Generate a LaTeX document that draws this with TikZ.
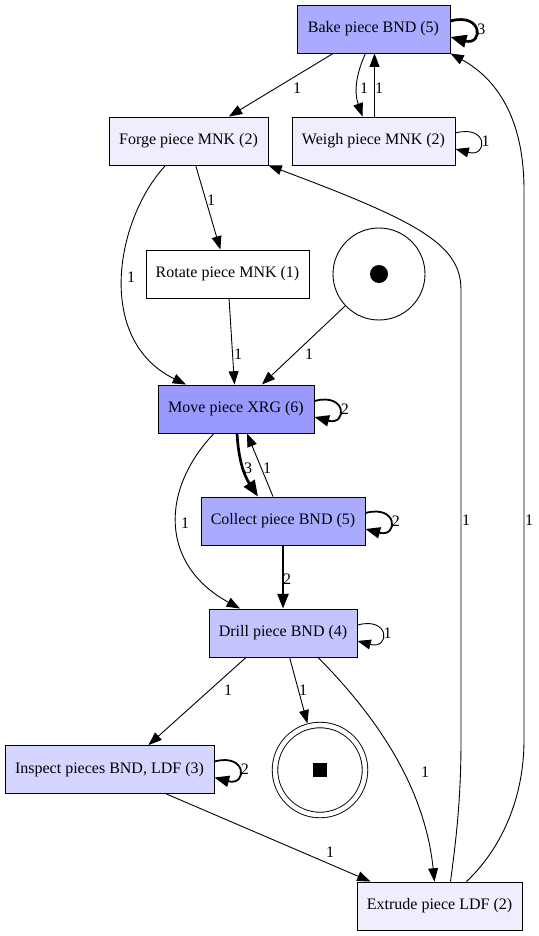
\documentclass[tikz,border=0pt]{standalone}
\usepackage{fontspec}
\setmainfont{Liberation Serif}
\usetikzlibrary{arrows.meta}

\definecolor{tone6}{HTML}{9999FF}
\definecolor{tone5}{HTML}{AAAAFF}
\definecolor{tone4}{HTML}{C4C4FF}
\definecolor{tone3}{HTML}{D5D5FF}
\definecolor{tone2}{HTML}{EEEEFF}

\begin{document}
\begin{tikzpicture}[x=1pt, y=-1pt, font={\fontsize{16}{18}\selectfont}]
	\tikzstyle{trans} = [ draw, rectangle, line width=0.9pt, minimum height=48pt, inner sep=2pt ];
	\tikzstyle{place} = [ draw, circle, line width=0.9pt, inner sep=0pt ];
	\tikzstyle{arc} = [ ->, line width=0.9pt, >={Triangle[length=12pt 1.5, width=8.5pt 1.5]} ];
	\tikzstyle{lbl} = [ inner sep=0pt ];

	\useasboundingbox (0,0) rectangle (538,936);

	% transitions, shaded by how often they fire
	\node[trans, fill=tone5, minimum width=153pt] (bake) at (373.5,29) {Bake piece BND (5)};
	\node[trans, fill=tone2, minimum width=159pt] (forge) at (188.5,141) {Forge piece MNK (2)};
	\node[trans, fill=tone2, minimum width=163pt] (weigh) at (373.5,141) {Weigh piece MNK (2)};
	\node[trans, fill=white, minimum width=163pt] (rotate) at (227.5,274) {Rotate piece MNK (1)};
	\node[trans, fill=tone6, minimum width=156pt] (move) at (236,409) {Move piece XRG (6)};
	\node[trans, fill=tone5, minimum width=164pt] (collect) at (283,521) {Collect piece BND (5)};
	\node[trans, fill=tone4, minimum width=148pt] (drill) at (283,633) {Drill piece BND (4)};
	\node[trans, fill=tone3, minimum width=209pt] (inspect) at (109.5,769.5) {Inspect pieces BND, LDF (3)};
	\node[trans, fill=tone2, minimum width=165pt] (extrude) at (439.5,906) {Extrude piece LDF (2)};

	% places
	\node[place, minimum size=92pt] (start) at (379,274) {};
	\node[place, double, double distance=4.6pt, minimum size=90pt, outer sep=3.2pt] (end) at (320,770) {};
	\fill (start.center) circle (9pt);
	\fill ([shift={(-7pt,-7pt)}]end.center) rectangle +(14pt,14pt);

	% self loops
	\foreach \n/\w in {bake/3, weigh/1, move/2, collect/2, drill/1, inspect/2} {
		\draw[arc, line width=0.9*\w pt] ([yshift=8pt]\n.east) to[out=15, in=-15, distance=34pt]
			node[lbl, pos=0.5, right=1pt] {\w} ([yshift=-8pt]\n.east);
	}

	% arcs
	\draw[arc] (bake) -- (forge) node[lbl] at (297,88) {1};
	\draw[arc] ([xshift=-8pt]bake.south) to[bend right=22] ([xshift=-11pt]weigh.north);
	\node[lbl] at (364,88) {1};
	\draw[arc] ([xshift=1pt]weigh.north) -- ([xshift=1pt]bake.south) node[lbl] at (379,88) {1};
	\draw[arc] (forge) -- (rotate) node[lbl] at (211,200) {1};
	\draw[arc] ([xshift=-23pt]forge.south) .. controls (115,220) and (95,340) .. ([xshift=-50pt]move.north)
		node[lbl] at (131,277) {1};
	\draw[arc] (rotate) -- (move) node[lbl] at (238,354) {1};
	\draw[arc] (start) -- (move) node[lbl] at (309,354) {1};
	\draw[arc, line width=2.7pt] ([xshift=1pt]move.south) to[bend right=15] ([xshift=-25pt]collect.north)
		node[lbl] at (248,468) {3};
	\draw[arc] ([xshift=-10pt]collect.north) -- ([xshift=11pt]move.south) node[lbl] at (267,468) {1};
	\draw[arc] ([xshift=-22pt]move.south) .. controls (160,490) and (160,565) .. ([xshift=-43pt]drill.north)
		node[lbl] at (185,523) {1};
	\draw[arc, line width=1.8pt] (collect) -- (drill) node[lbl] at (287,579) {2};
	\draw[arc] ([xshift=-37pt]drill.south) -- ([xshift=39pt]inspect.north) node[lbl] at (228,690) {1};
	\draw[arc] (drill) -- (end) node[lbl] at (303,690) {1};
	\draw[arc] ([xshift=35pt]drill.south) .. controls (380,720) and (425,790) .. ([xshift=-5pt]extrude.north)
		node[lbl] at (425,772) {1};
	\draw[arc] (inspect) -- ([xshift=-69pt]extrude.north) node[lbl] at (330,852) {1};
	\draw[arc] ([xshift=11pt]extrude.north) .. controls (456,840) and (461,800) .. (461,740) -- (461,290)
		.. controls (461,245) and (420,222) .. (forge.south east) node[lbl] at (466,520) {1};
	\draw[arc] ([xshift=27pt]extrude.north) .. controls (500,850) and (524,800) .. (524,740) -- (524,190)
		.. controls (524,110) and (490,75) .. (bake.south east) node[lbl] at (529,520) {1};

\end{tikzpicture}
\end{document}
